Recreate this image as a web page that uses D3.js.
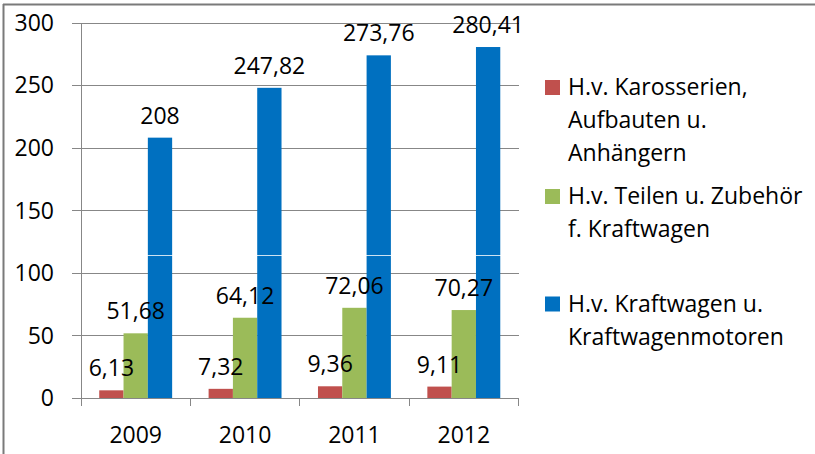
<!DOCTYPE html>
<html>

<head>
  <meta charset="utf-8">
  <title>Kraftwagen Umsatz</title>
  <style>
    body { margin: 0; background: #fff; }
    text { font-family: "Open Sans", Lato, sans-serif; fill: #000; font-size: 23px; }
  </style>
</head>

<body>
  <script src="https://d3js.org/d3.v7.min.js"></script>
  <script>
    // data
    var years = ["2009", "2010", "2011", "2012"];
    var seriesNames = ["H.v. Karosserien, Aufbauten u. Anhängern",
                       "H.v. Teilen u. Zubehör f. Kraftwagen",
                       "H.v. Kraftwagen u. Kraftwagenmotoren"];
    var karosserien = [6.13, 7.32, 9.36, 9.11];
    var teile = [51.68, 64.12, 72.06, 70.27];
    var kraftwagen = [208, 247.82, 273.76, 280.41];
    var yTicks = [0, 50, 100, 150, 200, 250, 300];
    // legend text broken into lines as in the picture
    var legendLines = [["H.v. Karosserien,", "Aufbauten u.", "Anhängern"],
                       ["H.v. Teilen u. Zubehör", "f. Kraftwagen"],
                       ["H.v. Kraftwagen u.", "Kraftwagenmotoren"]];
    var colors = ["#c0504d", "#9bbb59", "#0070c0"];

    var width = 815;
    var height = 454;
    var plotLeft = 81, plotRight = 518.5, plotTop = 22.5, plotBottom = 398;

    var svg = d3.select("body").append("svg")
      .attr("width", width).attr("height", height);

    // outer frame (only top and left edge visible)
    svg.append("line").attr("x1", 3).attr("x2", width).attr("y1", 4.5).attr("y2", 4.5)
      .attr("stroke", "#7a7a7a").attr("stroke-width", 2);
    svg.append("line").attr("x1", 3.5).attr("x2", 3.5).attr("y1", 4).attr("y2", height)
      .attr("stroke", "#7a7a7a").attr("stroke-width", 2);

    var x = d3.scaleBand().domain(years).range([plotLeft, plotRight]).padding(0);
    var barW = x.bandwidth() / 4.5; // gap width 150%
    var xs = d3.scaleBand().domain(d3.range(3)).range([0.75 * barW, 3.75 * barW]).padding(0);
    var y = d3.scaleLinear().domain([0, 300]).range([plotBottom, plotTop]);

    var g = svg.append("g");

    // gridlines + y axis
    var yAxis = d3.axisLeft(y).tickValues(yTicks).tickSize(plotRight - plotLeft + 9).tickPadding(0).tickFormat("");
    var ya = g.append("g").attr("transform", "translate(" + plotRight + ",0)").call(yAxis);
    ya.select(".domain").remove();
    ya.selectAll("line").attr("stroke", "#878787").attr("stroke-width", 1).attr("shape-rendering", "crispEdges");

    g.selectAll(".ylab").data(yTicks).enter().append("text")
      .attr("class", "ylab")
      .attr("x", 54)
      .attr("y", function(d) { return y(d); })
      .attr("dy", "0.36em")
      .attr("text-anchor", "end")
      .text(function(d) { return d; });

    g.append("line").attr("x1", plotLeft).attr("x2", plotLeft).attr("y1", plotTop).attr("y2", plotBottom)
      .attr("stroke", "#878787").attr("shape-rendering", "crispEdges");

    // x axis with ticks at category boundaries
    var bounds = years.map(function(d) { return x(d); }).concat([plotRight]);
    g.append("line").attr("x1", plotLeft).attr("x2", plotRight).attr("y1", plotBottom).attr("y2", plotBottom)
      .attr("stroke", "#878787").attr("shape-rendering", "crispEdges");
    g.selectAll(".xtick").data(bounds).enter().append("line")
      .attr("class", "xtick")
      .attr("x1", function(d) { return d; }).attr("x2", function(d) { return d; })
      .attr("y1", plotBottom).attr("y2", plotBottom + 8)
      .attr("stroke", "#878787").attr("shape-rendering", "crispEdges");
    g.selectAll(".xlab").data(years).enter().append("text")
      .attr("class", "xlab")
      .attr("x", function(d) { return x(d) + x.bandwidth() / 2; })
      .attr("y", 443)
      .attr("text-anchor", "middle")
      .text(function(d) { return d; });

    // bars
    var series = [karosserien, teile, kraftwagen];
    var barData = [];
    series.forEach(function(vals, si) {
      vals.forEach(function(v, i) {
        barData.push({ s: si, year: years[i], value: v });
      });
    });

    g.selectAll(".bar").data(barData).enter().append("rect")
      .attr("class", "bar")
      .attr("x", function(d) { return x(d.year) + xs(d.s); })
      .attr("width", xs.bandwidth())
      .attr("y", function(d) { return y(d.value); })
      .attr("height", function(d) { return plotBottom - y(d.value); })
      .attr("fill", function(d) { return colors[d.s]; });

    // thin white seam across the bars (visible in the original)
    g.append("line").attr("x1", plotLeft + 1).attr("x2", plotRight).attr("y1", 255.5).attr("y2", 255.5)
      .attr("stroke", "#fff").attr("stroke-width", 1).attr("opacity", 0.8);

    // data labels
    g.selectAll(".vlab").data(barData).enter().append("text")
      .attr("class", "vlab")
      .attr("x", function(d) { return x(d.year) + xs(d.s) + xs.bandwidth() / 2; })
      .attr("y", function(d) { return y(d.value) - 14; })
      .attr("text-anchor", "middle")
      .text(function(d) { return String(d.value).replace(".", ","); });

    // legend
    var legendTop = [95, 204, 311.5];
    var leg = svg.selectAll(".leg").data(seriesNames).enter().append("g")
      .attr("class", "leg")
      .attr("transform", function(d, i) { return "translate(545," + legendTop[i] + ")"; });
    leg.append("rect")
      .attr("x", 0).attr("y", -15).attr("width", 15).attr("height", 15)
      .attr("fill", function(d, i) { return colors[i]; });
    leg.each(function(d, i) {
      d3.select(this).selectAll("text").data(legendLines[i]).enter().append("text")
        .attr("x", 23)
        .attr("y", function(t, j) { return j * 33; })
        .text(function(t) { return t; });
    });
  </script>
</body>

</html>
